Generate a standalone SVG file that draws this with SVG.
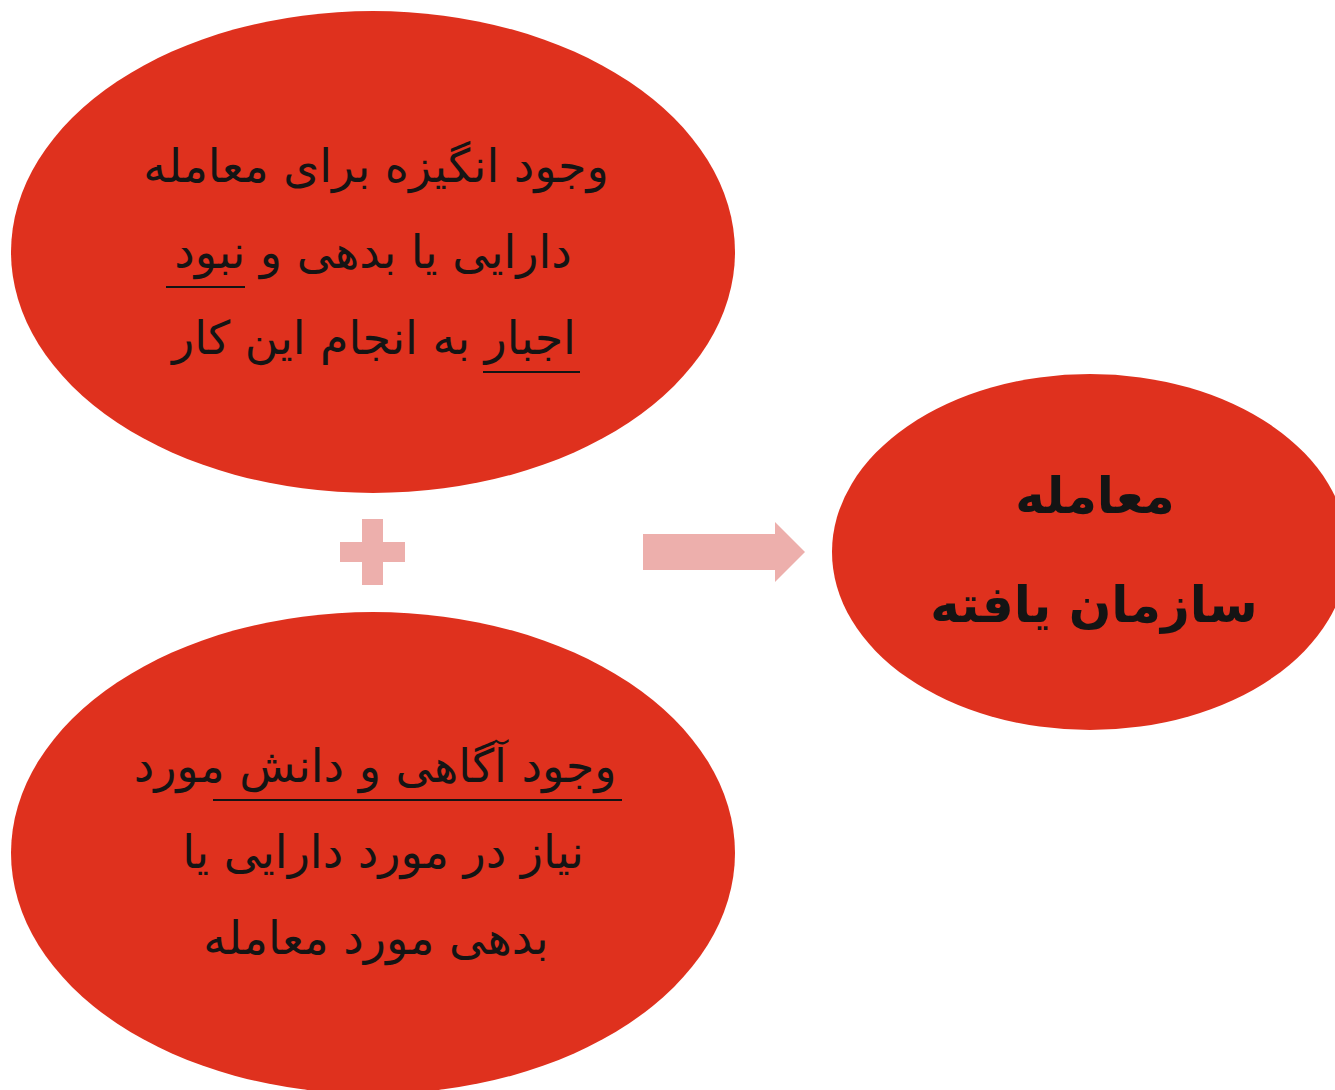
<svg xmlns="http://www.w3.org/2000/svg" width="1335" height="1090" viewBox="0 0 1335 1090">
<style>
.node{fill:#DF311E}
.t{font-family:"DejaVu Sans","Noto Sans",sans-serif;font-size:46px;fill:#141414;text-anchor:middle;direction:rtl}
.b{font-weight:bold;font-size:50px}
.ul{stroke:#141414;stroke-width:2;fill:none}
.sym{fill:#EDAFAC}
</style>
<rect width="1335" height="1090" fill="#ffffff"/>
<g id="node-motive">
<ellipse class="node" cx="373" cy="252" rx="362" ry="241"/>
<text class="t" x="376" y="182">وجود انگیزه برای معامله</text>
<text class="t" x="373" y="268">دارایی یا بدهی و نبود</text>
<text class="t" x="374" y="354">اجبار به انجام این کار</text>
<path class="ul" d="M166 287H245M483 372H580"/>
</g>
<g id="node-knowledge">
<ellipse class="node" cx="373" cy="853" rx="362" ry="241"/>
<text class="t" x="375" y="782">وجود آگاهی و دانش مورد</text>
<text class="t" x="383" y="868">نیاز در مورد دارایی یا</text>
<text class="t" x="376" y="954">بدهی مورد معامله</text>
<path class="ul" d="M213 800H622"/>
</g>
<g id="node-result">
<ellipse class="node" cx="1090" cy="552" rx="258" ry="178"/>
<text class="t b" x="1095" y="513">معامله</text>
<text class="t b" x="1094" y="622">سازمان یافته</text>
</g>
<g id="connectors">
<path id="plus" class="sym" d="M362 519H383V542H405V562H383V585H362V562H340V542H362Z"/>
<path id="arrow" class="sym" d="M643 534H775V522L805 552L775 582V570H643Z"/>
</g>
</svg>
